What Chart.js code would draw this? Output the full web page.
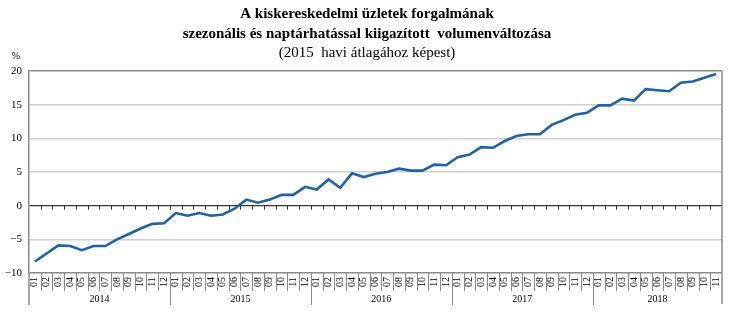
<!DOCTYPE html>
<html>
<head>
<meta charset="utf-8">
<script src="https://cdn.jsdelivr.net/npm/chart.js@4/dist/chart.umd.min.js"></script>
<style>
	body { margin: 0; background: #fff; }
	canvas { display: block; }
</style>
</head>
<body>
<canvas id="volume-chart" width="730" height="323"></canvas>
<script>
const years = ["2014", "2015", "2016", "2017", "2018"];
const monthCodes = ["01", "02", "03", "04", "05", "06", "07", "08", "09", "10", "11", "12"];

// Volume change vs. 2015 monthly average, %
const values2014 = [-8.3, -7.1, -5.9, -6.0, -6.6, -6.0, -6.0, -5.0, -4.2, -3.4, -2.7, -2.6];
const values2015 = [-1.1, -1.5, -1.1, -1.5, -1.3, -0.45, 0.9, 0.45, 0.9, 1.6, 1.6, 2.8];
const values2016 = [2.4, 3.9, 2.65, 4.8, 4.25, 4.75, 5.0, 5.5, 5.2, 5.2, 6.1, 6.0];
const values2017 = [7.2, 7.6, 8.7, 8.6, 9.6, 10.35, 10.6, 10.6, 12.0, 12.7, 13.5, 13.8];
const values2018 = [14.9, 14.9, 15.9, 15.6, 17.3, 17.15, 17.0, 18.25, 18.45, 19.0, 19.55];

const yearValues = [values2014, values2015, values2016, values2017, values2018];
const yTicks = [-10, -5, 0, 5, 10, 15, 20];

const titleLines = [
	"A kiskereskedelmi üzletek forgalmának",
	"szezonális és naptárhatással kiigazított  volumenváltozása",
];
const subtitle = "(2015  havi átlagához képest)";

// one label per month, grouped by year
const categories = [];
const yearOf = [];
yearValues.forEach((vals, y) => {
	vals.forEach((_, m) => {
		categories.push(monthCodes[m]);
		yearOf.push(years[y]);
	});
});
const values = [].concat(...yearValues);

const serif = "'Liberation Serif', 'Times New Roman', serif";
const frameColor = "#8a8a8a";

const decorations = {
	id: "decorations",
	afterDraw(chart) {
		const { ctx, chartArea } = chart;
		const { left, right, top, bottom } = chartArea;
		const n = categories.length;
		const w = (right - left) / n;
		const y0 = chart.scales.y.getPixelForValue(0);

		ctx.save();

		// titles
		ctx.fillStyle = "#000";
		ctx.textAlign = "center";
		ctx.textBaseline = "middle";
		ctx.font = "bold 15px " + serif;
		ctx.fillText(titleLines[0], 367, 14);
		ctx.fillText(titleLines[1], 367, 34);
		ctx.font = "15px " + serif;
		ctx.fillText(subtitle, 367, 53);

		ctx.font = "10px " + serif;
		ctx.fillText("%", 16, 56);

		// frame: right side and left axis extension
		ctx.strokeStyle = frameColor;
		ctx.lineWidth = 1.5;
		ctx.beginPath();
		ctx.moveTo(right, top);
		ctx.lineTo(right, 304);
		ctx.moveTo(left, bottom);
		ctx.lineTo(left, 305);
		ctx.stroke();

		// small ticks below zero line
		ctx.strokeStyle = "#333";
		ctx.lineWidth = 1;
		ctx.beginPath();
		for (let i = 1; i < n; i++) {
			const x = Math.round(left + i * w) + 0.5;
			ctx.moveTo(x, y0);
			ctx.lineTo(x, y0 + 4);
		}
		ctx.stroke();

		// month cells
		ctx.strokeStyle = frameColor;
		ctx.beginPath();
		for (let i = 1; i < n; i++) {
			const x = Math.round(left + i * w) + 0.5;
			const yearEdge = i % 12 === 0;
			ctx.moveTo(x, bottom);
			ctx.lineTo(x, yearEdge ? 305 : 291);
		}
		ctx.stroke();

		ctx.fillStyle = "#000";
		ctx.font = "10px " + serif;
		for (let i = 0; i < n; i++) {
			const cx = left + (i + 0.5) * w;
			ctx.save();
			ctx.translate(cx, 282);
			ctx.rotate(-Math.PI / 2);
			ctx.textAlign = "center";
			ctx.textBaseline = "middle";
			ctx.fillText(categories[i], 0, 0);
			ctx.restore();
		}

		// year labels centred under their months
		let start = 0;
		years.forEach((yr, k) => {
			const count = yearValues[k].length;
			const cx = left + (start + count / 2) * w;
			ctx.textAlign = "center";
			ctx.textBaseline = "middle";
			ctx.fillText(yr, cx, 299);
			start += count;
		});

		ctx.restore();
	},
};

new Chart(document.getElementById("volume-chart"), {
	type: "line",
	data: {
		labels: categories,
		datasets: [
			{
				label: "Volumenváltozás",
				data: values,
				borderColor: "#1f62a5",
				borderWidth: 2.6,
				pointRadius: 0,
				tension: 0,
				fill: false,
			},
		],
	},
	options: {
		responsive: false,
		animation: false,
		layout: {
			padding: { top: 71, right: 8, left: 0, bottom: 0 },
		},
		plugins: {
			legend: { display: false },
			tooltip: { enabled: false },
		},
		scales: {
			x: {
				type: "category",
				offset: true,
				afterFit: (scale) => {
					scale.height = 50;
				},
				ticks: { display: false },
				grid: { display: false },
				border: { display: false },
			},
			y: {
				min: -10,
				max: 20,
				afterFit: (scale) => {
					scale.width = 29;
				},
				afterBuildTicks: (scale) => {
					scale.ticks = yTicks.map((v) => ({ value: v }));
				},
				ticks: {
					color: "#000",
					padding: 7,
					font: { family: serif, size: 11 },
					callback: (v) => (v < 0 ? "\u2212" + Math.abs(v) : v),
				},
				grid: {
					drawTicks: false,
					lineWidth: (c) => (c.tick && c.tick.value === 0 ? 1.3 : 1.5),
					color: (c) => {
						const v = c.tick && c.tick.value;
						if (v === 0) return "#333";
						if (v === 20 || v === -10) return frameColor;
						return "#cfcfcf";
					},
				},
				border: { display: true, color: frameColor, width: 1.5 },
			},
		},
	},
	plugins: [decorations],
});
</script>
</body>
</html>
